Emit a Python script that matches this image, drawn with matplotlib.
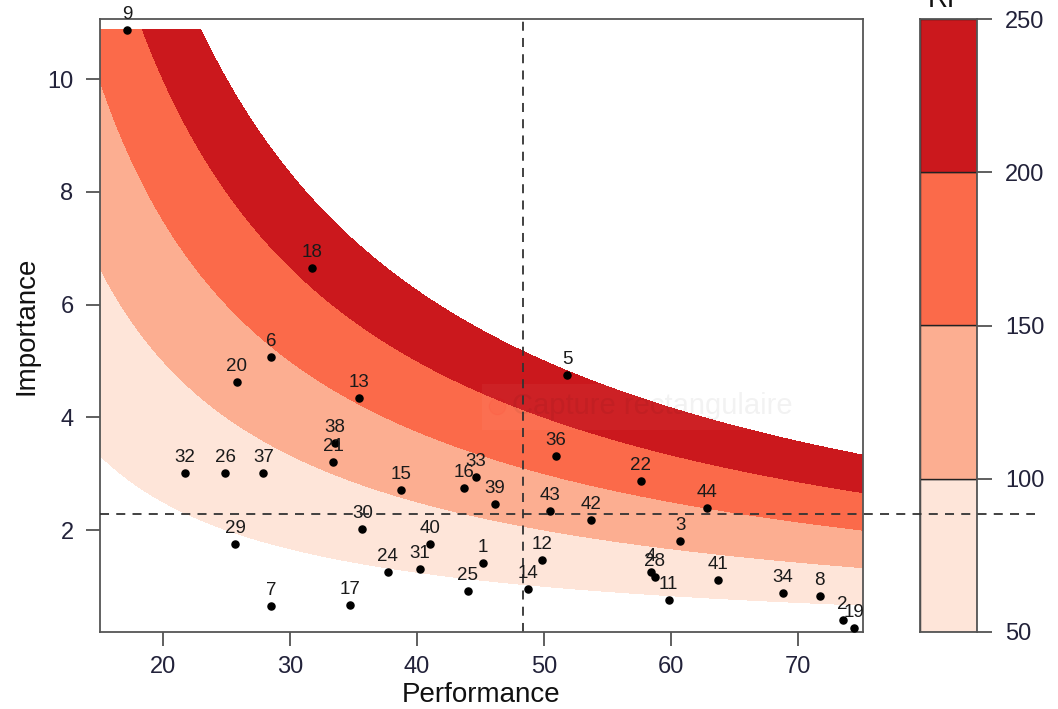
import matplotlib
matplotlib.use("Agg")
import matplotlib.pyplot as plt
import matplotlib.transforms as mtransforms
from matplotlib.lines import Line2D
import numpy as np

plt.rcParams['font.family'] = ['Liberation Sans', 'DejaVu Sans']

# item id, performance, importance
ids = [9, 18, 6, 20, 13, 5, 38, 21, 32, 26, 37, 15, 16, 33, 39, 30, 29, 40,
       24, 31, 1, 25, 7, 17, 36, 22, 43, 42, 44, 3, 12, 14, 4, 28, 11, 41,
       34, 8, 2, 19]
performance = [17.2, 31.7, 28.5, 25.8, 35.4, 51.8, 33.5, 33.4, 21.7, 24.9,
               27.9, 38.7, 43.7, 44.6, 46.1, 35.7, 25.7, 41.0, 37.7, 40.2,
               45.2, 44.0, 28.5, 34.7, 50.9, 57.6, 50.5, 53.7, 62.8, 60.7,
               49.8, 48.7, 58.4, 58.7, 59.8, 63.7, 68.8, 71.7, 73.5, 74.4]
importance = [10.88, 6.65, 5.07, 4.63, 4.34, 4.75, 3.54, 3.21, 3.01, 3.02,
              3.01, 2.71, 2.75, 2.94, 2.47, 2.02, 1.76, 1.75, 1.26, 1.31,
              1.41, 0.92, 0.65, 0.67, 3.32, 2.87, 2.34, 2.18, 2.39, 1.81,
              1.47, 0.96, 1.25, 1.17, 0.76, 1.12, 0.88, 0.83, 0.40, 0.26]

# risk priority bands: RP = performance * importance
rp_levels = [50, 100, 150, 200, 250]
rp_colors = ['#FEE5D9', '#FCAE91', '#FB6A4A', '#CB181D']

mean_perf = 48.35
mean_imp = 2.28

x_ticks = [20, 30, 40, 50, 60, 70]
y_ticks = [2, 4, 6, 8, 10]

W, H = 1058, 709
fig = plt.figure(figsize=(W / 100, H / 100), dpi=100)
ax = fig.add_axes([100 / W, 1 - 632 / H, 763 / W, 613 / H])
cax = fig.add_axes([920 / W, 1 - 632 / H, 57 / W, 613 / H])

# background bands
gp = np.linspace(15.0, 75.2, 600)
gi = np.linspace(0.1, max(importance), 600)
GP, GI = np.meshgrid(gp, gi)
ax.contourf(GP, GI, GP * GI, levels=rp_levels, colors=rp_colors, zorder=0)

# faint screenshot watermark
ax.add_patch(plt.Rectangle((0.5, 0.33), 0.5, 0.075, transform=ax.transAxes,
                           facecolor='white', alpha=0.04, lw=0, zorder=1))
ax.scatter([0.52], [0.368], s=140, color='red', alpha=0.04, transform=ax.transAxes, zorder=1)
ax.text(0.54, 0.368, 'Capture rectangulaire', transform=ax.transAxes, fontsize=21,
        color='black', alpha=0.05, va='center', ha='left', zorder=1)

ax.axvline(mean_perf, color='#333333', linestyle=(0, (5, 4)), linewidth=1.3, zorder=2)
hline_tr = mtransforms.blended_transform_factory(fig.transFigure, ax.transData)
fig.add_artist(Line2D([100 / W, 1035 / W], [mean_imp, mean_imp], transform=hline_tr,
                      color='#333333', linestyle=(0, (5, 4)), linewidth=1.3, zorder=5))

ax.scatter(performance, importance, s=26, color='black', zorder=3, clip_on=False)
for lab, p, i in zip(ids, performance, importance):
    ax.annotate(str(lab), (p, i), xytext=(0, 5), textcoords='offset points',
                ha='center', va='bottom', fontsize=13.5, color='#1a1a1a', zorder=4,
                annotation_clip=False)

ax.set_xlim(15.04, 75.1)
ax.set_ylim(0.19, 11.07)
ax.set_xticks(x_ticks)
ax.set_yticks(y_ticks)
ax.tick_params(axis='both', labelsize=17, length=10, width=1.2, colors='#444444',
               labelcolor='#22223a', direction='out', pad=7)
ax.tick_params(axis='y', pad=9)
for s in ax.spines.values():
    s.set_color('#555555')
    s.set_linewidth(1.3)
ax.set_xlabel('Performance', fontsize=20, labelpad=3, color='#111111')
ax.set_ylabel('Importance', fontsize=20, labelpad=6, color='#111111')

# colour key
for lo, hi, col in zip(rp_levels[:-1], rp_levels[1:], rp_colors):
    cax.bar(0.5, hi - lo, bottom=lo, width=1.0, color=col, edgecolor='#222222', linewidth=1.0)
cax.set_xlim(0, 1)
cax.set_ylim(50, 250)
cax.set_xticks([])
cax.set_yticks(rp_levels)
cax.yaxis.tick_right()
cax.tick_params(axis='y', labelsize=17, length=11, width=1.2, colors='#444444',
                labelcolor='#22223a', pad=9)
for s in cax.spines.values():
    s.set_color('#555555')
    s.set_linewidth(1.3)
fig.text(947 / W, 1 - 7 / H, 'RP', ha='center', va='baseline', fontsize=20, color='#111111')

fig.savefig('out.png', dpi=100)
